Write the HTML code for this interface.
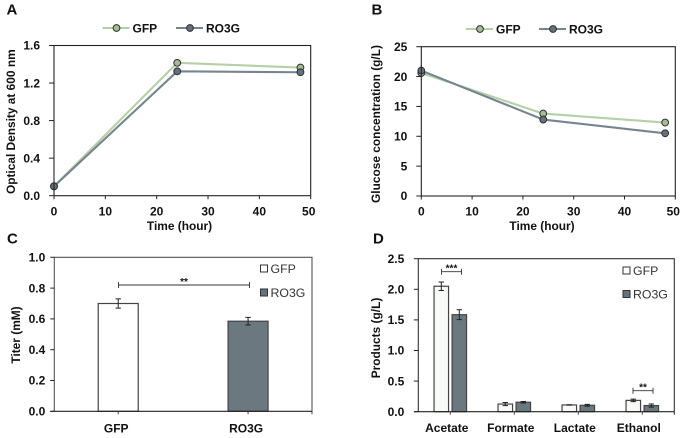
<!DOCTYPE html>
<html>
<head>
<meta charset="utf-8">
<style>
html,body{margin:0;padding:0;background:#fff;width:685px;height:438px;overflow:hidden}
svg{display:block;font-family:"Liberation Sans",Arial,sans-serif}
text{fill:#111}
.tick{font-size:12px;font-weight:bold}
.title{font-size:11.9px;font-weight:bold}
.panel{font-size:15px;font-weight:bold}
.leg{font-size:12px;font-weight:bold}
.legn{font-size:12.3px;fill:#333}
</style>
</head>
<body>
<svg id="fig" width="685" height="438" viewBox="0 0 685 438" xmlns="http://www.w3.org/2000/svg"></svg>
<script>
const timeHours = [0, 24, 48];
const odGfp = [0.1, 1.415, 1.365];
const odRo3g = [0.1, 1.325, 1.315];
const glucoseGfp = [20.6, 13.8, 12.3];
const glucoseRo3g = [21.0, 12.8, 10.5];
const glucoseErrGfp = [0.6, 0.2, 0.2];
const glucoseErrRo3g = [0.9, 0.2, 0.2];
const xTicks = [0, 10, 20, 30, 40, 50];
const odTicks = ['0.0', '0.4', '0.8', '1.2', '1.6'];
const glucoseTicks = ['0', '5', '10', '15', '20', '25'];
const titerCategories = ['GFP', 'RO3G'];
const titerValues = [0.70, 0.585];
const titerErrors = [0.03, 0.025];
const titerTicks = ['0.0', '0.2', '0.4', '0.6', '0.8', '1.0'];
const productCategories = ['Acetate', 'Formate', 'Lactate', 'Ethanol'];
const productsGfp = [2.05, 0.125, 0.11, 0.185];
const productsRo3g = [1.585, 0.155, 0.105, 0.10];
const productsErrGfp = [0.07, 0.025, 0.003, 0.02];
const productsErrRo3g = [0.08, 0.012, 0.015, 0.025];
const productTicks = ['0.0', '0.5', '1.0', '1.5', '2.0', '2.5'];

const svg = document.getElementById('fig');
const NS = 'http://www.w3.org/2000/svg';
function mk(tag, attrs, name, parent, txt) {
  const el = document.createElementNS(NS, tag);
  for (const k in attrs) el.setAttribute(k, attrs[k]);
  
  
  if (txt !== undefined) el.textContent = txt;
  (parent || svg).appendChild(el);
  return el;
}
const scale = (d0, d1, r0, r1) => v => r0 + (v - d0) * (r1 - r0) / (d1 - d0);
const GFP_LINE = '#b5cfa8', GFP_DOT = '#a6bd8f', RO_LINE = '#77858f', RO_DOT = '#66727b';

function frame(b, color, w) {
  mk('rect', {x: b.l, y: b.t, width: b.r - b.l, height: b.b - b.t, fill: 'none', stroke: color, 'stroke-width': w}, 'plot-frame');
}
function yAxis(b, labels, name, gap, tickLen) {
  const y = scale(0, labels.length - 1, b.b, b.t);
  labels.forEach((t, i) => {
    mk('line', {x1: b.l - tickLen, x2: b.l, y1: y(i), y2: y(i), stroke: '#222', 'stroke-width': 1}, name + '-tick');
    mk('text', {x: b.l - gap, y: y(i) + 4.2, 'text-anchor': 'end', class: 'tick'}, name + '-tick-label', null, t);
  });
}
function lineChart(b, xs, series, xDom, yDom, labelY) {
  const x = scale(xDom[0], xDom[1], b.l, b.r), y = scale(yDom[0], yDom[1], b.b, b.t);
  xTicks.forEach(t => {
    mk('line', {x1: x(t), x2: x(t), y1: b.b, y2: b.b + 3.5, stroke: '#222', 'stroke-width': 1}, 'x-tick');
    mk('text', {x: x(t) - (t === 50 ? 2 : 0), y: labelY, 'text-anchor': 'middle', class: 'tick'}, 'x-tick-label', null, String(t));
  });
  series.forEach(s => {
    mk('polyline', {points: xs.map((v, i) => x(v) + ',' + y(s.values[i])).join(' '), fill: 'none', stroke: s.line, 'stroke-width': 2.1}, s.name + '-line');
    xs.forEach((v, i) => {
      if (s.errs) {
        const h = y(0) - y(s.errs[i]);
        mk('line', {x1: x(v), x2: x(v), y1: y(s.values[i]) - h, y2: y(s.values[i]) + h, stroke: '#222', 'stroke-width': 1}, s.name + '-error-bar');
      }
    });
  });
  series.forEach(s => xs.forEach((v, i) => {
    mk('circle', {cx: x(v), cy: y(s.values[i]), r: 3.4, fill: s.dot, stroke: '#2c3136', 'stroke-width': 1}, s.name + '-point');
  }));
}
function lineLegend(ox1, ox2, yy) {
  [[ox1, GFP_LINE, GFP_DOT, 'GFP', 'gfp'], [ox2, RO_LINE, RO_DOT, 'RO3G', 'ro3g']].forEach(e => {
    mk('line', {x1: e[0], x2: e[0] + 27, y1: yy, y2: yy, stroke: e[1], 'stroke-width': 2.1}, 'legend-line-' + e[4]);
    mk('circle', {cx: e[0] + 14, cy: yy, r: 3.4, fill: e[2], stroke: '#2c3136', 'stroke-width': 1}, 'legend-marker-' + e[4]);
    mk('text', {x: e[0] + 30, y: yy + 4.4, class: 'leg'}, 'legend-label-' + e[4], null, e[3]);
  });
}
function barLegend(x1, y1, y2) {
  mk('rect', {x: x1, y: y1 - 3.5, width: 7, height: 7, fill: '#fff', stroke: '#333', 'stroke-width': 1}, 'legend-swatch-gfp');
  mk('text', {x: x1 + 10, y: y1 + 4.5, class: 'legn'}, 'legend-label-gfp', null, 'GFP');
  mk('rect', {x: x1, y: y2 - 3.5, width: 7, height: 7, fill: '#66727b', stroke: '#333', 'stroke-width': 1}, 'legend-swatch-ro3g');
  mk('text', {x: x1 + 10, y: y2 + 4.5, class: 'legn'}, 'legend-label-ro3g', null, 'RO3G');
}
function bar(cx, w, val, err, y, fill, name) {
  mk('rect', {x: cx - w / 2, y: y(val), width: w, height: y(0) - y(val), fill: fill, stroke: '#444', 'stroke-width': 1.2}, name);
  const t = y(val + err), bt = y(val - err);
  mk('path', {d: 'M' + (cx - 2.7) + ' ' + t + 'H' + (cx + 2.7) + 'M' + cx + ' ' + t + 'V' + bt + 'M' + (cx - 2.7) + ' ' + bt + 'H' + (cx + 2.7), fill: 'none', stroke: '#222', 'stroke-width': 1}, name + '-error-bar');
}
function bracket(x1, x2, yy, label, fs) {
  mk('path', {d: 'M' + x1 + ' ' + (yy - 3) + 'V' + (yy + 3) + 'M' + x1 + ' ' + yy + 'H' + x2 + 'M' + x2 + ' ' + (yy - 3) + 'V' + (yy + 3), fill: 'none', stroke: '#333', 'stroke-width': 0.9}, 'significance-bracket');
  mk('text', {x: (x1 + x2) / 2, y: yy, 'text-anchor': 'middle', style: 'font-size:' + fs + 'px;font-weight:bold'}, 'significance-label', null, label);
}
function vTitle(x, y, t, name) {
  mk('text', {x: x, y: y, transform: 'rotate(-90 ' + x + ' ' + y + ')', 'text-anchor': 'middle', class: 'title'}, name, null, t);
}

/* Panel A */
const bA = {l: 54, r: 310.7, t: 45.5, b: 195.7};
lineChart(bA, timeHours, [
  {name: 'gfp', values: odGfp, line: GFP_LINE, dot: GFP_DOT},
  {name: 'ro3g', values: odRo3g, line: RO_LINE, dot: RO_DOT}
], [0, 50], [0, 1.6], 215.5);
frame(bA, '#222', 1.1);
yAxis(bA, odTicks, 'y', 14, 5);
vTitle(15, 121.7, 'Optical Density at 600 nm', 'y-axis-title');
mk('text', {x: 179.5, y: 230, 'text-anchor': 'middle', class: 'title'}, 'x-axis-title', null, 'Time (hour)');
mk('text', {x: 6.5, y: 14.5, class: 'panel'}, 'panel-label-a', null, 'A');
lineLegend(102.5, 176, 28);

/* Panel B */
const bB = {l: 421.3, r: 675.3, t: 46.7, b: 196};
lineChart(bB, timeHours, [
  {name: 'gfp', values: glucoseGfp, line: GFP_LINE, dot: GFP_DOT, errs: glucoseErrGfp},
  {name: 'ro3g', values: glucoseRo3g, line: RO_LINE, dot: RO_DOT, errs: glucoseErrRo3g}
], [0, 50], [0, 25], 215.5);
frame(bB, '#222', 1.1);
yAxis(bB, glucoseTicks, 'y', 14, 5);
vTitle(380, 124, 'Glucose concentration (g/L)', 'y-axis-title');
mk('text', {x: 542, y: 230, 'text-anchor': 'middle', class: 'title'}, 'x-axis-title', null, 'Time (hour)');
mk('text', {x: 371.5, y: 14.5, class: 'panel'}, 'panel-label-b', null, 'B');
lineLegend(466, 539, 29);

/* Panel C */
const bC = {l: 54.3, r: 312, t: 257.3, b: 411.3};
const yC = scale(0, 1, bC.b, bC.t);
mk('path', {d: 'M' + bC.l + ' ' + bC.b + 'V' + bC.t + 'H' + bC.r + 'V' + (bC.b + 3), fill: 'none', stroke: '#555', 'stroke-width': 1.1}, 'plot-frame');
const catC = (bC.r - bC.l) / titerCategories.length;
titerCategories.forEach((c, i) => {
  const cx = bC.l + catC * (i + 0.5) + (i === 0 ? -0.5 : 0.5);
  bar(cx, 40, titerValues[i], titerErrors[i], yC, i === 0 ? '#fff' : '#6b7880', 'bar-' + c.toLowerCase());
  mk('text', {x: cx - 2, y: 432.3, 'text-anchor': 'middle', class: 'tick'}, 'x-tick-label', null, c);
  mk('line', {x1: cx, x2: cx, y1: bC.b, y2: bC.b + 3, stroke: '#444', 'stroke-width': 1}, 'x-tick');
});
mk('line', {x1: bC.l - 4, x2: bC.r, y1: bC.b, y2: bC.b, stroke: '#222', 'stroke-width': 1.2}, 'x-axis');
yAxis(bC, titerTicks, 'y', 9, 4);
vTitle(20, 335, 'Titer (mM)', 'y-axis-title');
mk('text', {x: 7, y: 243.5, class: 'panel'}, 'panel-label-c', null, 'C');
bracket(118.5, 249.5, 285, '**', 10);
barLegend(260.5, 268.5, 292.5);

/* Panel D */
const bD = {l: 418.3, r: 674.3, t: 258.7, b: 411.7};
const yD = scale(0, 2.5, bD.b, bD.t);
mk('path', {d: 'M' + bD.l + ' ' + bD.b + 'V' + bD.t + 'H' + bD.r + 'V' + (bD.b + 3), fill: 'none', stroke: '#333', 'stroke-width': 1.1}, 'plot-frame');
const catD = (bD.r - bD.l) / productCategories.length;
productCategories.forEach((c, i) => {
  const cx = bD.l + catD * (i + 0.5);
  bar(cx - 9, 14.5, productsGfp[i], productsErrGfp[i], yD, '#f8faf8', 'bar-gfp-' + c.toLowerCase());
  bar(cx + 9, 14.5, productsRo3g[i], productsErrRo3g[i], yD, '#6b7880', 'bar-ro3g-' + c.toLowerCase());
  mk('text', {x: cx - 3.5, y: 431.8, 'text-anchor': 'middle', class: 'tick'}, 'x-tick-label', null, c);
  mk('line', {x1: cx, x2: cx, y1: bD.b, y2: bD.b + 3, stroke: '#444', 'stroke-width': 1}, 'x-tick');
});
mk('line', {x1: bD.l - 4, x2: bD.r, y1: bD.b, y2: bD.b, stroke: '#222', 'stroke-width': 1.2}, 'x-axis');
yAxis(bD, productTicks, 'y', 14, 4.5);
vTitle(380, 338, 'Products (g/L)', 'y-axis-title');
mk('text', {x: 373, y: 243.5, class: 'panel'}, 'panel-label-d', null, 'D');
bracket(441.5, 461.5, 271.7, '***', 10);
bracket(633, 653, 390.7, '**', 10);
barLegend(623, 270.5, 294);
</script>
</body>
</html>
